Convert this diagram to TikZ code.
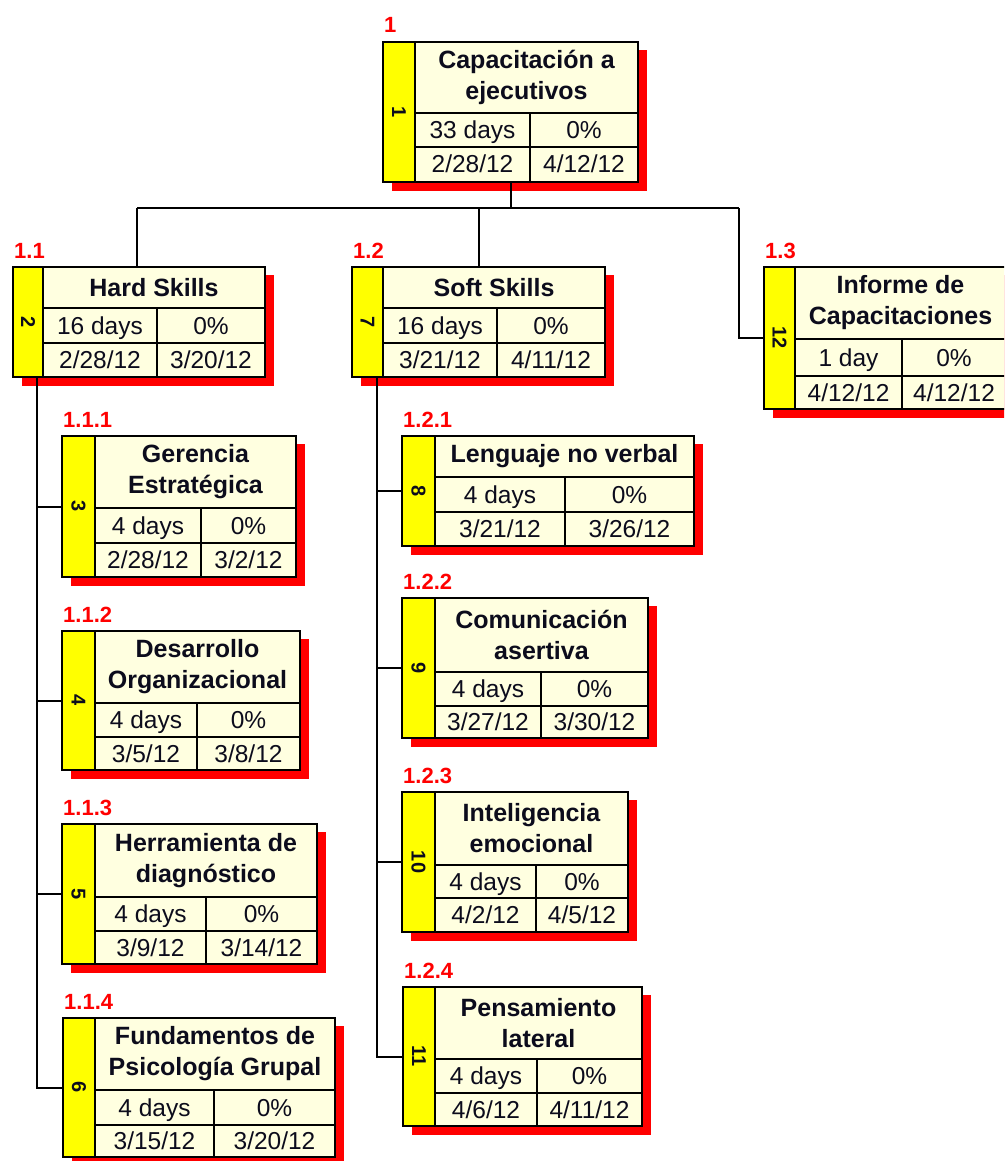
\documentclass[tikz,border=0pt]{standalone}
\usepackage{fontspec}
\setmainfont{Liberation Sans}
\usetikzlibrary{fit}

\definecolor{wbsred}{RGB}{255,0,0}
\definecolor{wbsyellow}{RGB}{255,255,0}
\definecolor{wbscream}{RGB}{255,255,224}
\definecolor{wbsink}{RGB}{12,12,28}

% geometry of one task box: name, left, top, strip right, right,
% title bottom, row divider, bottom, column divider
\newcommand\wbsgeom[9]{%
  \def\wbsname{#1}\def\wxa{#2}\def\wya{#3}\def\wxs{#4}\def\wxb{#5}%
  \def\wyt{#6}\def\wyr{#7}\def\wyb{#8}\def\wxc{#9}}

% contents: id, WBS code, title, duration, percent, start, finish
\newcommand\wbstask[7]{%
  \fill[wbsred] (\wxa+9,\wya+8) rectangle (\wxb+9,\wyb+9);
  \fill[wbscream] (\wxs,\wya) rectangle (\wxb,\wyb);
  \fill[wbsyellow] (\wxa,\wya) rectangle (\wxs,\wyb);
  \draw[wbsrule] (\wxs,\wya) -- (\wxs,\wyb)
                 (\wxs,\wyt) -- (\wxb,\wyt)
                 (\wxs,\wyr) -- (\wxb,\wyr)
                 (\wxc,\wyt) -- (\wxc,\wyb);
  \node[wbsframe, fit={(\wxa,\wya) (\wxb,\wyb)}] (\wbsname) {};
  \node[wbsid] at ({(\wxa+\wxs)/2},{(\wya+\wyb)/2}) {#1};
  \node[wbscode] at (\wxa+1,\wya-9) {#2};
  \node[wbstitle] at ({(\wxs+\wxb)/2},{(\wya+\wyt)/2}) {#3};
  \node[wbscell] at ({(\wxs+\wxc)/2},{(\wyt+\wyr)/2+8.5}) {#4};
  \node[wbscell] at ({(\wxc+\wxb)/2},{(\wyt+\wyr)/2+8.5}) {#5};
  \node[wbscell] at ({(\wxs+\wxc)/2},{(\wyr+\wyb)/2+8.5}) {#6};
  \node[wbscell] at ({(\wxc+\wxb)/2},{(\wyr+\wyb)/2+8.5}) {#7};
}

\tikzset{
  wbsframe/.style={draw=black, line width=2pt, inner sep=0pt},
  wbsrule/.style={black, line width=1.8pt},
  link/.style={black, line width=2pt},
  wbsid/.style={rotate=-90, inner sep=0pt, text=wbsink,
    font=\bfseries\fontsize{20}{20}\selectfont},
  wbscode/.style={anchor=base west, inner sep=0pt, text=wbsred,
    font=\bfseries\fontsize{22}{22}\selectfont},
  wbstitle/.style={align=center, inner sep=0pt, text=wbsink,
    font=\bfseries\fontsize{25}{31}\selectfont},
  wbscell/.style={anchor=base, inner sep=0pt, text=wbsink,
    font=\fontsize{24.5}{24.5}\selectfont},
}

\begin{document}
\begin{tikzpicture}[x=1pt, y=-1pt]
\clip (0,0) rectangle (1004,1161);
\useasboundingbox (0,0) rectangle (1004,1161);
\fill[white] (0,0) rectangle (1004,1161);

% top level
\wbsgeom{t1}{383}{42}{415}{638}{113}{147}{182}{530}
\wbstask{1}{1}{Capacitación a\\ejecutivos}{33 days}{0\%}{2/28/12}{4/12/12}

% second level
\wbsgeom{t2}{13}{267}{43}{265}{308}{343}{377}{157}
\wbstask{2}{1.1}{Hard Skills}{16 days}{0\%}{2/28/12}{3/20/12}
\wbsgeom{t7}{352}{267}{383}{605}{308}{343}{377}{497}
\wbstask{7}{1.2}{Soft Skills}{16 days}{0\%}{3/21/12}{4/11/12}
\wbsgeom{t12}{764}{267}{795}{1006}{339}{376}{409}{902}
\wbstask{12}{1.3}{Informe de\\Capacitaciones}{1 day}{0\%}{4/12/12}{4/12/12}

% Hard Skills
\wbsgeom{t3}{62}{436}{95}{296}{508}{543}{577}{201}
\wbstask{3}{1.1.1}{Gerencia\\Estratégica}{4 days}{0\%}{2/28/12}{3/2/12}
\wbsgeom{t4}{62}{631}{95}{300}{703}{737}{770}{197}
\wbstask{4}{1.1.2}{Desarrollo\\Organizacional}{4 days}{0\%}{3/5/12}{3/8/12}
\wbsgeom{t5}{62}{824}{95}{317}{897}{931}{964}{206}
\wbstask{5}{1.1.3}{Herramienta de\\diagnóstico}{4 days}{0\%}{3/9/12}{3/14/12}
\wbsgeom{t6}{63}{1018}{95}{335}{1090}{1125}{1157}{214}
\wbstask{6}{1.1.4}{Fundamentos de\\Psicología Grupal}{4 days}{0\%}{3/15/12}{3/20/12}

% Soft Skills
\wbsgeom{t8}{402}{436}{435}{694}{477}{512}{546}{565}
\wbstask{8}{1.2.1}{Lenguaje no verbal}{4 days}{0\%}{3/21/12}{3/26/12}
\wbsgeom{t9}{402}{598}{435}{648}{672}{706}{738}{541}
\wbstask{9}{1.2.2}{Comunicación\\asertiva}{4 days}{0\%}{3/27/12}{3/30/12}
\wbsgeom{t10}{402}{792}{435}{628}{865}{898}{932}{536}
\wbstask{10}{1.2.3}{Inteligencia\\emocional}{4 days}{0\%}{4/2/12}{4/5/12}
\wbsgeom{t11}{403}{987}{435}{642}{1059}{1093}{1126}{537}
\wbstask{11}{1.2.4}{Pensamiento\\lateral}{4 days}{0\%}{4/6/12}{4/11/12}

% connectors from the top task
\coordinate (busL) at (137,208);
\coordinate (busR) at (739,208);
\draw[link] (t1.south) -- (t1.south |- busL);
\draw[link] (busL) -- (busR);
\draw[link] (busL) -- (busL |- t2.north);
\draw[link] (t7.north |- busL) -- (t7.north);
\draw[link] (busR) |- (t12.west);

% Hard Skills spine
\coordinate (spineL) at (37,377);
\draw[link] (spineL) |- (t6.west);
\foreach \t in {t3,t4,t5} \draw[link] (\t.west) -- (\t.west -| spineL);

% Soft Skills spine
\coordinate (spineR) at (377,377);
\draw[link] (spineR) |- (t11.west);
\foreach \t in {t8,t9,t10} \draw[link] (\t.west) -- (\t.west -| spineR);
\end{tikzpicture}
\end{document}
